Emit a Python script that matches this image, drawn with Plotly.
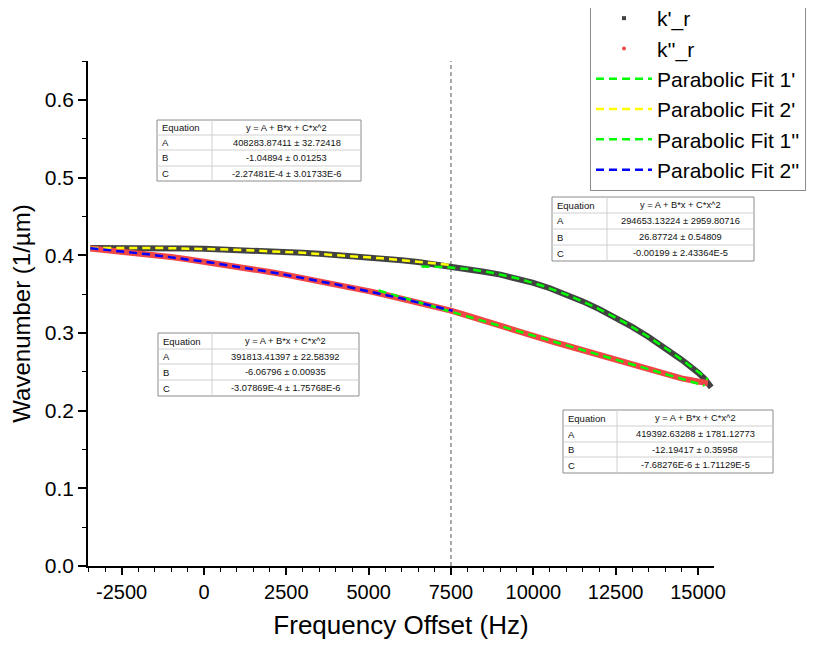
import numpy as np
import plotly.graph_objects as go

# ---------------- data ----------------
kp_x = [-3450, -3000, -2500, -2000, -1500, -1000, -500, 0, 500, 1000, 1500, 2000, 2500, 3000,
        3500, 4000, 4500, 5000, 5500, 6000, 6500, 7000, 7500, 8000, 8500, 9000, 9500, 10000,
        10500, 11000, 11500, 12000, 12500, 13000, 13500, 14000, 14500, 15000, 15200, 15400]
kp_y = [0.4092, 0.4094, 0.4095, 0.4094, 0.4093, 0.4091, 0.4087, 0.4083, 0.4077, 0.4070,
        0.4062, 0.4053, 0.4042, 0.4031, 0.4018, 0.4004, 0.3990, 0.3974, 0.3956, 0.3936,
        0.3914, 0.3886, 0.3853, 0.3820, 0.3787, 0.3750, 0.3702, 0.3644, 0.3575, 0.3495,
        0.3406, 0.3306, 0.3197, 0.3077, 0.2948, 0.2806, 0.2655, 0.2490, 0.2410, 0.2300]

kpp_x = [-3450, -3000, -2500, -2000, -1500, -1000, -500, 0, 500, 1000, 1500, 2000, 2500, 3000,
         3500, 4000, 4500, 5000, 5500, 6000, 6500, 7000, 7500, 8000, 8500, 9000, 9500, 10000,
         10500, 11000, 11500, 12000, 12500, 13000, 13500, 14000, 14500, 15000, 15300]
kpp_y = [0.4087, 0.4070, 0.4051, 0.4027, 0.4002, 0.3976, 0.3948, 0.3918, 0.3887, 0.3854,
         0.3820, 0.3784, 0.3747, 0.3708, 0.3668, 0.3626, 0.3583, 0.3538, 0.3491, 0.3443,
         0.3394, 0.3343, 0.3288, 0.3222, 0.3154, 0.3087, 0.3021, 0.2958, 0.2897, 0.2838,
         0.2778, 0.2718, 0.2656, 0.2592, 0.2527, 0.2466, 0.2415, 0.2375, 0.2355]

# fit results as printed in the tables (A, B, C with errors), y in 1/m
fit_names = ["Parabolic Fit 1'", "Parabolic Fit 2'", "Parabolic Fit 1''", "Parabolic Fit 2''"]
fit_A = ["294653.13224", "408283.87411", "419392.63288", "391813.41397"]
fit_A_err = ["2959.80716", "32.72418", "1781.12773", "22.58392"]
fit_B = ["26.87724", "-1.04894", "-12.19417", "-6.06796"]
fit_B_err = ["0.54809", "0.01253", "0.35958", "0.00935"]
fit_C = ["-0.00199", "-2.27481E-4", "-7.68276E-6", "-3.07869E-4"]
fit_C_err = ["2.43364E-5", "3.01733E-6", "1.71129E-5", "1.75768E-6"]
fit_xmin = [6600, -3450, 5300, -3450]
fit_xmax = [15300, 7500, 15200, 7550]
fit_colors = ["#00ff00", "#ffff00", "#00ff00", "#0000ff"]

x_ticks = [-2500, 0, 2500, 5000, 7500, 10000, 12500, 15000]
y_ticks = [0.0, 0.1, 0.2, 0.3, 0.4, 0.5, 0.6]
vline_x = 7500

# ---------------- figure ----------------
FONT = "Liberation Sans, Arial, sans-serif"
fig = go.Figure()

fig.add_trace(go.Scatter(x=kp_x, y=kp_y, mode="lines", line=dict(color="#424242", width=6),
                         showlegend=False, hoverinfo="skip"))
fig.add_trace(go.Scatter(x=kpp_x, y=kpp_y, mode="lines", line=dict(color="#f04646", width=6),
                         showlegend=False, hoverinfo="skip"))
fig.add_trace(go.Scatter(x=[None], y=[None], mode="markers", name="k'_r", legendrank=1,
                         marker=dict(symbol="square", size=4, color="#424242")))
fig.add_trace(go.Scatter(x=[None], y=[None], mode="markers", name="k''_r", legendrank=2,
                         marker=dict(symbol="circle", size=4, color="#f04646")))

for i in range(4):
    A, B, C = float(fit_A[i]), float(fit_B[i]), float(fit_C[i])
    xs = np.linspace(fit_xmin[i], fit_xmax[i], 200)
    ys = (A + B * xs + C * xs ** 2) / 1e6
    fig.add_trace(go.Scatter(x=xs, y=ys, mode="lines", name=fit_names[i], legendrank=3 + i,
                             line=dict(color=fit_colors[i], width=2.5, dash="8px,5px")))

# plot geometry (figure pixels); page body adds an 8px offset on screen
OFF = 8
W, H = 820, 651
L, R, T, B = 80, 114, 53, 93
PW, PH = W - L - R, H - T - B


def px(xs):  # screen x -> paper
    return (xs - OFF - L) / PW


def py(ys):  # screen y -> paper
    return (H - B - (ys - OFF)) / PH


shapes = [dict(type="line", xref="x", yref="paper", x0=vline_x, x1=vline_x, y0=0, y1=1,
               line=dict(color="#555555", width=1, dash="4px,3px"), layer="below")]
annotations = []

# tables: (fit index, x0, xsplit, x1, row y positions) in screen pixels
tables = [
    (1, 157, 212, 361, [120, 135, 150, 166, 181]),
    (0, 552, 607, 754, [197, 213, 229, 245, 261]),
    (3, 158, 212, 359, [333, 349, 364, 380, 396]),
    (2, 563, 617, 773, [410, 426, 442, 457, 473]),
]
for fi, x0, xs_, x1, rows in tables:
    shapes.append(dict(type="rect", xref="paper", yref="paper", x0=px(x0), x1=px(x1),
                       y0=py(rows[-1]), y1=py(rows[0]), fillcolor="white",
                       line=dict(color="#8c8c8c", width=1)))
    for r in rows[1:-1]:
        shapes.append(dict(type="line", xref="paper", yref="paper", x0=px(x0), x1=px(x1),
                           y0=py(r), y1=py(r), line=dict(color="#d0d0d0", width=1)))
    shapes.append(dict(type="line", xref="paper", yref="paper", x0=px(xs_), x1=px(xs_),
                       y0=py(rows[-1]), y1=py(rows[0]), line=dict(color="#d0d0d0", width=1)))
    labels = ["Equation", "A", "B", "C"]
    values = ["y = A + B*x + C*x^2",
              f"{fit_A[fi]} \u00b1 {fit_A_err[fi]}",
              f"{fit_B[fi]} \u00b1 {fit_B_err[fi]}",
              f"{fit_C[fi]} \u00b1 {fit_C_err[fi]}"]
    for k in range(4):
        yc = (rows[k] + rows[k + 1]) / 2
        annotations.append(dict(xref="paper", yref="paper", x=px(x0 + 3), y=py(yc),
                                xanchor="left", yanchor="middle", showarrow=False,
                                text=labels[k], font=dict(family=FONT, size=9.5, color="#111")))
        annotations.append(dict(xref="paper", yref="paper", x=px((xs_ + x1) / 2), y=py(yc),
                                xanchor="center", yanchor="middle", showarrow=False,
                                text=values[k], font=dict(family=FONT, size=9.3, color="#111")))

fig.update_layout(
    width=W, height=H,
    margin=dict(l=L, r=R, t=T, b=B, autoexpand=False),
    paper_bgcolor="white", plot_bgcolor="white",
    font=dict(family=FONT, color="black"),
    shapes=shapes, annotations=annotations,
    legend=dict(x=px(590), y=py(-3), xanchor="left", yanchor="top",
                bgcolor="white", bordercolor="#8c8c8c", borderwidth=1,
                font=dict(family=FONT, size=21, color="black"),
                itemwidth=56, tracegroupgap=0),
    xaxis=dict(range=[-3520, 15485], tickvals=x_ticks, ticktext=[str(v) for v in x_ticks],
               showgrid=False, zeroline=False, showline=True, linecolor="black", linewidth=1.5,
               ticks="outside", ticklen=7, tickwidth=1.5, tickcolor="black",
               tickfont=dict(family=FONT, size=20),
               minor=dict(dtick=500, tick0=0, ticks="outside", ticklen=4, tickwidth=1,
                          tickcolor="black", showgrid=False),
               title=dict(text="Frequency Offset (Hz)", font=dict(family=FONT, size=26),
                          standoff=14)),
    yaxis=dict(range=[0, 0.65], tickvals=y_ticks, ticktext=[f"{v:.1f}" for v in y_ticks],
               showgrid=False, zeroline=False, showline=True, linecolor="black", linewidth=1.5,
               ticks="outside", ticklen=8, tickwidth=1.5, tickcolor="black",
               tickfont=dict(family=FONT, size=21),
               minor=dict(dtick=0.05, tick0=0, ticks="outside", ticklen=4, tickwidth=1,
                          tickcolor="black", showgrid=False),
               title=dict(text="Wavenumber (1/\u00b5m)", font=dict(family=FONT, size=24),
                          standoff=12)),
)

fig.write_html("out.html")
